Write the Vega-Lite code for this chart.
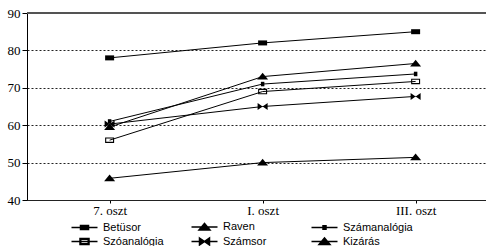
{
  "$schema": "https://vega.github.io/schema/vega-lite/v6.json",
  "width": 459,
  "height": 187,
  "autosize": {"type": "none"},
  "padding": {"left": 27, "top": 13, "right": 0, "bottom": 46},
  "background": "white",
  "config": {
    "view": {"stroke": null},
    "axis": {
      "labelFont": "Liberation Serif",
      "labelFontSize": 13,
      "labelColor": "black",
      "domainColor": "black",
      "tickColor": "black",
      "title": null
    }
  },
  "data": {
    "values": [
      {"series": "Betüsor", "grade": "7. oszt", "value": 78},
      {"series": "Betüsor", "grade": "I. oszt", "value": 82},
      {"series": "Betüsor", "grade": "III. oszt", "value": 85},
      {"series": "Raven", "grade": "7. oszt", "value": 59.5},
      {"series": "Raven", "grade": "I. oszt", "value": 73},
      {"series": "Raven", "grade": "III. oszt", "value": 76.5},
      {"series": "Számanalógia", "grade": "7. oszt", "value": 61},
      {"series": "Számanalógia", "grade": "I. oszt", "value": 71},
      {"series": "Számanalógia", "grade": "III. oszt", "value": 73.7},
      {"series": "Szóanalógia", "grade": "7. oszt", "value": 56},
      {"series": "Szóanalógia", "grade": "I. oszt", "value": 69},
      {"series": "Szóanalógia", "grade": "III. oszt", "value": 71.7},
      {"series": "Számsor", "grade": "7. oszt", "value": 60.3},
      {"series": "Számsor", "grade": "I. oszt", "value": 65},
      {"series": "Számsor", "grade": "III. oszt", "value": 67.7},
      {"series": "Kizárás", "grade": "7. oszt", "value": 45.8},
      {"series": "Kizárás", "grade": "I. oszt", "value": 50},
      {"series": "Kizárás", "grade": "III. oszt", "value": 51.4}
    ]
  },
  "encoding": {
    "x": {
      "field": "grade",
      "type": "ordinal",
      "sort": ["7. oszt", "I. oszt", "III. oszt"],
      "scale": {"type": "point", "paddingOuter": 0.4525, "align": 0.54},
      "axis": {"labelAngle": 0, "tickSize": 3, "labelPadding": 1, "domainColor": "#222"}
    },
    "y": {
      "field": "value",
      "type": "quantitative",
      "scale": {"domain": [40, 90], "nice": false, "zero": false},
      "axis": {
        "values": [40, 50, 60, 70, 80, 90],
        "tickSize": 5,
        "labelPadding": 2,
        "grid": true,
        "gridDash": [2, 2],
        "gridColor": "#222",
        "gridWidth": 1
      }
    }
  },
  "layer": [
    {
      "mark": {"type": "rule", "color": "#555", "strokeWidth": 1.2},
      "encoding": {"y": {"datum": 90}, "x": null}
    },
    {
      "mark": {"type": "line", "color": "black", "strokeWidth": 1},
      "encoding": {"detail": {"field": "series"}}
    },
    {
      "mark": {"type": "point", "filled": true, "color": "black", "opacity": 1, "size": 100, "strokeWidth": 0},
      "encoding": {
        "shape": {
          "field": "series",
          "type": "nominal",
          "scale": {
            "domain": ["Betüsor", "Raven", "Számanalógia", "Szóanalógia", "Számsor", "Kizárás"],
            "range": [
              "M-0.9,-0.5H0.9V0.5H-0.9Z",
              "M-1.1,0.6L0,-0.75L1.1,0.6Z",
              "M-0.35,-0.45H0.35V0.45H-0.35Z",
              "M-0.9,-0.55H0.9V0.55H-0.9ZM-0.68,-0.33V0.33H0.68V-0.33Z",
              "M-1,-0.7L0,0L-1,0.7ZM1,-0.7L1,0.7L0,0Z",
              "M-1.1,0.6L0,-0.75L1.1,0.6Z"
            ]
          },
          "legend": null
        }
      }
    },
    {
      "mark": {"type": "point", "filled": true, "fill": "black", "stroke": "black", "strokeWidth": 1, "opacity": 0},
      "encoding": {
        "shape": {
          "field": "series",
          "type": "nominal",
          "scale": {
            "domain": ["Betüsor", "Raven", "Számanalógia", "Szóanalógia", "Számsor", "Kizárás"],
            "range": [
              "M-2.6,0H2.6M-0.8,-0.4H0.8V0.4H-0.8Z",
              "M-2.6,0H2.6M-1.1,0.6L0,-0.7L1.1,0.6Z",
              "M-2.6,0H2.6M-0.3,-0.35H0.3V0.35H-0.3Z",
              "M-2.6,0H2.6M-0.9,-0.6H0.9V0.6H-0.9ZM-0.75,-0.45V0.45H0.75V-0.45Z",
              "M-2.6,0H2.6M-1,-0.7L0,0L-1,0.7ZM1,-0.7L1,0.7L0,0Z",
              "M-2.6,0H2.6M-1.1,0.6L0,-0.7L1.1,0.6Z"
            ]
          },
          "legend": {
            "title": null,
            "orient": "none",
            "legendX": 51.5,
            "legendY": 207.5,
            "direction": "horizontal",
            "columns": 3,
            "gridAlign": "all",
            "columnPadding": 15,
            "rowPadding": 1,
            "padding": 0,
            "symbolSize": 100,
            "labelFont": "Liberation Sans",
            "labelFontSize": 11,
            "labelColor": "black",
            "labelOffset": 12.5,
            "encode": {
              "symbols": {"update": {"opacity": {"value": 1}, "fill": {"value": "black"}, "stroke": {"value": "black"}, "strokeWidth": {"value": 1}}}
            }
          }
        }
      }
    }
  ],
  "resolve": {"scale": {"shape": "independent"}, "legend": {"shape": "independent"}}
}
